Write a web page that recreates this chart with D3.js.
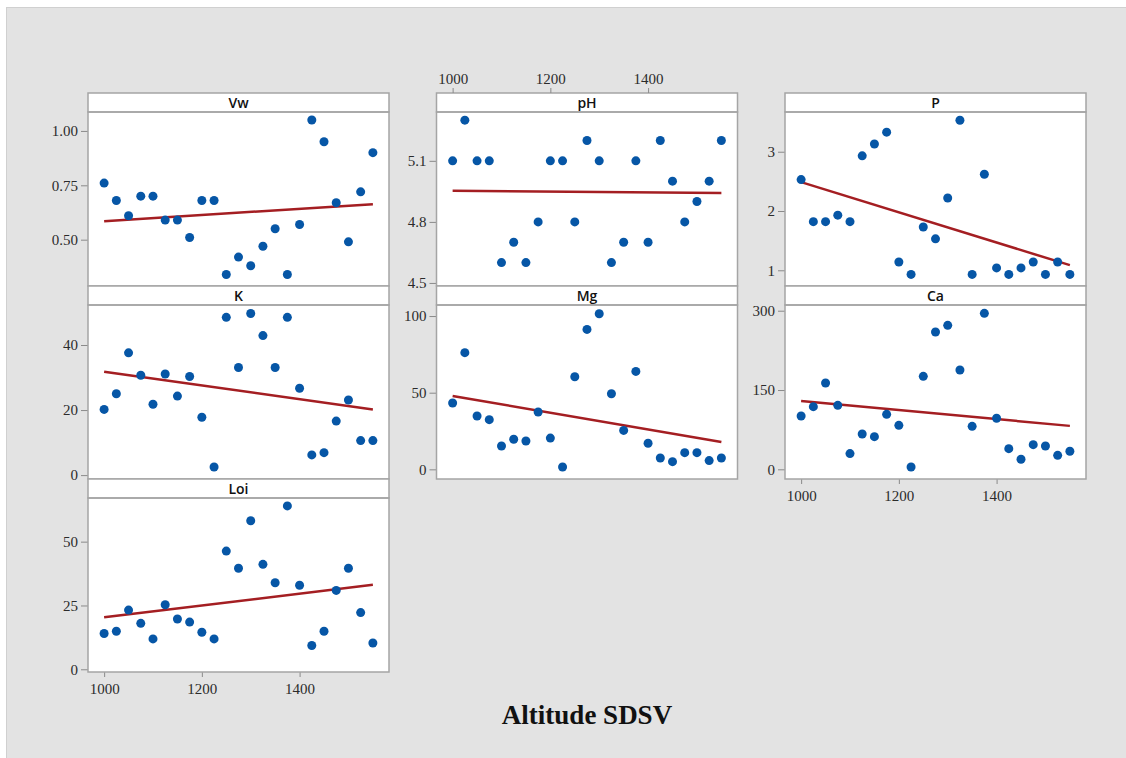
<!DOCTYPE html>
<html><head><meta charset="utf-8">
<script src="https://cdn.jsdelivr.net/npm/d3@7"></script>
<style>html,body{margin:0;padding:0;background:#fff;}svg{display:block;}</style>
</head><body>
<script>
// ---- data ----
const altitude = [1000,1025,1050,1075,1100,1125,1150,1175,1200,1225,1250,1275,1300,1325,1350,1375,1400,1425,1450,1475,1500,1525,1550];
const Vw  = [0.76,0.68,0.61,0.70,0.70,0.59,0.59,0.51,0.68,0.68,0.34,0.42,0.38,0.47,0.55,0.34,0.57,1.05,0.95,0.67,0.49,0.72,0.90];
const pH  = [5.1,5.3,5.1,5.1,4.6,4.7,4.6,4.8,5.1,5.1,4.8,5.2,5.1,4.6,4.7,5.1,4.7,5.2,5.0,4.8,4.9,5.0,5.2];
const P   = [2.53,1.82,1.82,1.93,1.82,2.93,3.13,3.33,1.14,0.93,1.73,1.53,2.22,3.53,0.93,2.62,1.04,0.93,1.04,1.14,0.93,1.14,0.93];
const K   = [20.2,25.0,37.6,30.7,21.8,31.1,24.3,30.3,17.8,2.5,48.5,33.1,49.7,42.9,33.1,48.5,26.7,6.2,6.9,16.6,23.1,10.6,10.6];
const Mg  = [43.3,76.1,34.8,32.4,15.2,19.6,18.5,37.4,20.4,1.5,60.4,91.3,101.5,49.3,25.4,63.9,17.0,7.4,5.0,10.9,10.9,5.7,7.4];
const Ca  = [100.9,118.5,163.3,121.0,29.7,66.9,61.8,104.0,83.2,4.5,175.9,259.7,272.3,187.8,81.3,295.0,96.5,39.1,19.0,46.7,44.2,26.5,34.1];
const Loi = [14.0,14.9,23.2,18.0,11.9,25.3,19.7,18.5,14.5,11.9,46.3,39.6,58.2,41.1,33.9,64.0,32.9,9.3,14.9,30.9,39.6,22.2,10.3];

const panelNames = ["Vw","pH","P","K","Mg","Ca","Loi"];
const panelSeries = [Vw,pH,P,K,Mg,Ca,Loi];
const xTicks = [1000,1200,1400];
const yTickValues = [[0.5,0.75,1.0],[4.5,4.8,5.1],[1,2,3],[0,20,40],[0,50,100],[0,150,300],[0,25,50]];
const yTickFormats = [".2f",".1f","d","d","d","d","d"];
const yDomains = [[0.287,1.087],[4.485,5.34],[0.735,3.67],[-1.2,52.3],[-6.3,107.2],[-18.3,310.8],[-1.06,67.1]];
const xDomain = [967,1583];
const axisTitle = "Altitude SDSV";

// ---- layout ----
const W = 1126, H = 758;
const colX = [88, 436.5, 785];
const rowY = [93, 286, 479];
const pw = 301, stripH = 19, plotH = 174;
// panel grid positions: [col,row]
const grid = [[0,0],[1,0],[2,0],[0,1],[1,1],[2,1],[0,2]];
// x axis placement per panel
const xAxisPos = [null,"top",null,null,null,"bottom","bottom"];

const svg = d3.select("body").append("svg").attr("width",W).attr("height",H);
svg.append("rect").attr("x",6.5).attr("y",7.5).attr("width",W).attr("height",H).attr("fill","#e3e3e3").attr("stroke","#d0d0d0").attr("stroke-width",1);

const border = "#a5a5a5";
const tickCol = "#8a8a8a";
const textCol = "#2b2b2b";

function linreg(xs, ys){
  const mx = d3.mean(xs), my = d3.mean(ys);
  let sxy=0, sxx=0;
  xs.forEach((x,i)=>{sxy+=(x-mx)*(ys[i]-my); sxx+=(x-mx)*(x-mx);});
  const b = sxy/sxx; return {a: my-b*mx, b};
}

panelNames.forEach((name,i)=>{
  const [c,r] = grid[i];
  const x0 = colX[c], y0 = rowY[r];
  const g = svg.append("g").attr("transform",`translate(${x0},${y0})`);
  const x = d3.scaleLinear().domain(xDomain).range([0,pw]);
  const y = d3.scaleLinear().domain(yDomains[i]).range([stripH+plotH, stripH]);
  const vals = panelSeries[i];

  // plot background
  g.append("rect").attr("x",0).attr("y",stripH).attr("width",pw).attr("height",plotH).attr("fill","#fff");
  // strip
  g.append("rect").attr("x",0).attr("y",0).attr("width",pw).attr("height",stripH).attr("fill","#fff").attr("stroke",border).attr("stroke-width",1.5);
  g.append("text").attr("x",pw/2).attr("y",stripH/2+5).attr("text-anchor","middle")
    .attr("font-family","'Open Sans', 'Noto Sans', sans-serif").attr("font-weight",600).attr("font-size",14).attr("fill","#111").text(name);

  // y axis
  const ya = d3.axisLeft(y).tickValues(yTickValues[i]).tickFormat(d3.format(yTickFormats[i])).tickSize(7).tickPadding(3);
  const yg = g.append("g").call(ya);
  yg.select(".domain").remove();
  yg.selectAll(".tick line").attr("stroke",tickCol);
  yg.selectAll(".tick text").attr("font-family","'Liberation Serif', 'Times New Roman', serif").attr("font-size",15).attr("fill",textCol);

  // x axis
  if(xAxisPos[i]==="top"){
    const xa = d3.axisTop(x).tickValues(xTicks).tickFormat(d3.format("d")).tickSize(5).tickPadding(4);
    const xg = g.append("g").call(xa);
    xg.select(".domain").remove();
    xg.selectAll(".tick line").attr("stroke",tickCol);
    xg.selectAll(".tick text").attr("font-family","'Liberation Serif', 'Times New Roman', serif").attr("font-size",15).attr("fill",textCol);
  } else if(xAxisPos[i]==="bottom"){
    const xa = d3.axisBottom(x).tickValues(xTicks).tickFormat(d3.format("d")).tickSize(5).tickPadding(6);
    const xg = g.append("g").attr("transform",`translate(0,${stripH+plotH})`).call(xa);
    xg.select(".domain").remove();
    xg.selectAll(".tick line").attr("stroke",tickCol);
    xg.selectAll(".tick text").attr("font-family","'Liberation Serif', 'Times New Roman', serif").attr("font-size",15).attr("fill",textCol);
  }

  // plot border
  g.append("rect").attr("x",0).attr("y",stripH).attr("width",pw).attr("height",plotH).attr("fill","none").attr("stroke",border).attr("stroke-width",1.5);

  // regression line
  const {a,b} = linreg(altitude, vals);
  const xe = d3.extent(altitude);
  g.append("line").attr("x1",x(xe[0])).attr("x2",x(xe[1])).attr("y1",y(a+b*xe[0])).attr("y2",y(a+b*xe[1]))
    .attr("stroke","#a41e22").attr("stroke-width",2.5);

  // points
  g.selectAll("circle.pt").data(altitude.map((d,k)=>[d,vals[k]])).enter().append("circle")
    .attr("class","pt").attr("cx",d=>x(d[0])).attr("cy",d=>y(d[1])).attr("r",4.5).attr("fill","#0656a6");
});

svg.append("text").attr("x",587).attr("y",724).attr("text-anchor","middle")
  .attr("font-family","'Liberation Serif', 'Times New Roman', serif").attr("font-weight","bold").attr("font-size",27).attr("fill","#111").text(axisTitle);
</script>
</body></html>
